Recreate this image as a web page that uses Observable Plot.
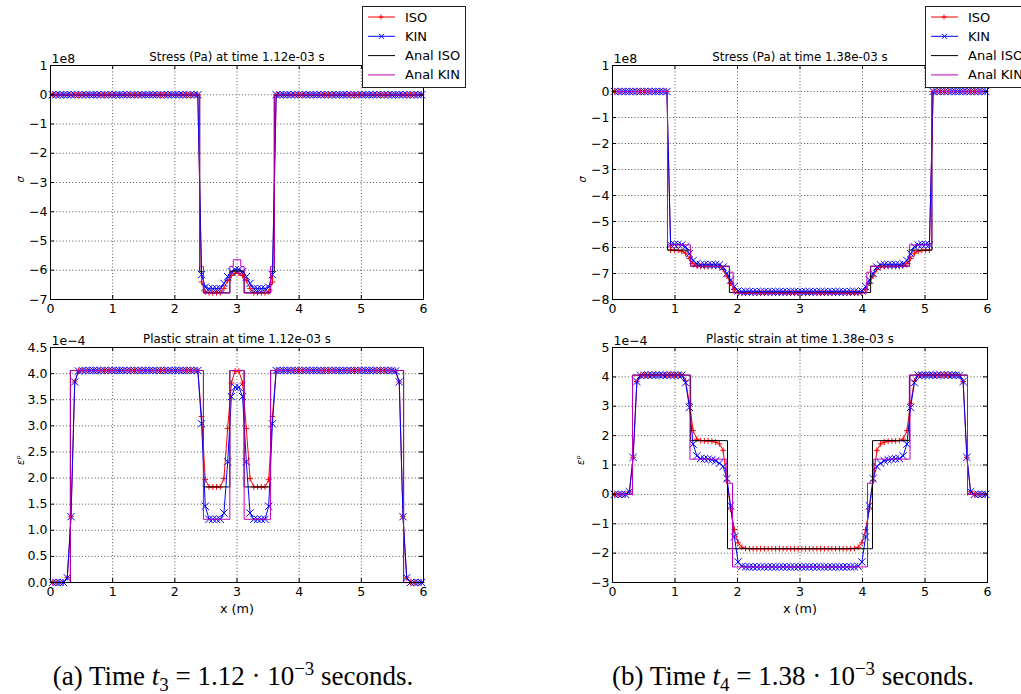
<!DOCTYPE html>
<html><head><meta charset="utf-8">
<script src="https://cdn.jsdelivr.net/npm/d3@7"></script>
<script src="https://cdn.jsdelivr.net/npm/@observablehq/plot@0.6"></script>
<style>
body{margin:0;background:#fff;}
#root{position:relative;width:1021px;height:694px;overflow:hidden;background:#fff;}
.panel{position:absolute;}
.legend{position:absolute;background:#fff;border:1px solid #222;box-sizing:border-box;z-index:5;}
.caption{position:absolute;font-family:"Liberation Serif","DejaVu Serif",serif;font-size:27px;line-height:27px;white-space:nowrap;color:#000;transform:translateX(-50%);}
.caption sub,.caption sup{font-size:70%;line-height:0;}
</style></head>
<body><div id="root"></div>
<script>
// ---------- data ----------
const xGrid = [
 0.03,0.09,0.15,0.21,0.27,0.33,0.39,0.45,0.51,0.57,
 0.63,0.69,0.75,0.81,0.87,0.93,0.99,1.05,1.11,1.17,
 1.23,1.29,1.35,1.41,1.47,1.53,1.59,1.65,1.71,1.77,
 1.83,1.89,1.95,2.01,2.07,2.13,2.19,2.25,2.31,2.37,
 2.43,2.49,2.55,2.61,2.67,2.73,2.79,2.85,2.91,2.97,
 3.03,3.09,3.15,3.21,3.27,3.33,3.39,3.45,3.51,3.57,
 3.63,3.69,3.75,3.81,3.87,3.93,3.99,4.05,4.11,4.17,
 4.23,4.29,4.35,4.41,4.47,4.53,4.59,4.65,4.71,4.77,
 4.83,4.89,4.95,5.01,5.07,5.13,5.19,5.25,5.31,5.37,
 5.43,5.49,5.55,5.61,5.67,5.73,5.79,5.85,5.91,5.97];

const seriesNames = ["ISO","KIN","Anal ISO","Anal KIN"];
const xTicks = [0,1,2,3,4,5,6];

// (a) stress, units 1e8 Pa
const stressA_iso = [
 0,0,0,0,0,0,0,0,0,0, 0,0,0,0,0,0,0,0,0,0, 0,0,0,0,0,0,0,0,0,0, 0,0,0,0,0,0,0,0,0,0,
 -6.40,-6.74,-6.77,-6.77,-6.77,-6.77,-6.62,-6.35,-6.18,-6.10,
 -6.10,-6.18,-6.35,-6.62,-6.77,-6.77,-6.77,-6.77,-6.74,-6.40,
 0,0,0,0,0,0,0,0,0,0, 0,0,0,0,0,0,0,0,0,0, 0,0,0,0,0,0,0,0,0,0, 0,0,0,0,0,0,0,0,0,0];
const stressA_kin = [
 0,0,0,0,0,0,0,0,0,0, 0,0,0,0,0,0,0,0,0,0, 0,0,0,0,0,0,0,0,0,0, 0,0,0,0,0,0,0,0,0,0,
 -6.15,-6.58,-6.63,-6.63,-6.63,-6.63,-6.45,-6.22,-6.05,-5.98,
 -5.98,-6.05,-6.22,-6.45,-6.63,-6.63,-6.63,-6.63,-6.58,-6.15,
 0,0,0,0,0,0,0,0,0,0, 0,0,0,0,0,0,0,0,0,0, 0,0,0,0,0,0,0,0,0,0, 0,0,0,0,0,0,0,0,0,0];
const stressA_analIsoX = [0, 2.40, 2.46, 2.885, 3.115, 3.54, 3.60, 6];
const stressA_analIsoY = [0, -6.05, -6.77, -6.03, -6.77, -6.05, 0, 0];
const stressA_analKinX = [0, 2.40, 2.46, 2.885, 2.94, 3.06, 3.115, 3.54, 3.60, 6];
const stressA_analKinY = [0, -5.87, -6.78, -5.87, -5.64, -5.87, -6.78, -5.87, 0, 0];
const stressA_yTicks = [1,0,-1,-2,-3,-4,-5,-6,-7];

// (a) plastic strain, units 1e-4
const strainA_iso = [
 0,0,0,0,0.09,1.26,3.84,4.05,4.06,4.06,
 4.06,4.06,4.06,4.06,4.06,4.06,4.06,4.06,4.06,4.06,
 4.06,4.06,4.06,4.06,4.06,4.06,4.06,4.06,4.06,4.06,
 4.06,4.06,4.06,4.06,4.06,4.06,4.06,4.06,4.06,4.06,
 3.18,1.97,1.83,1.83,1.83,1.83,1.99,2.95,3.82,4.05,
 4.05,3.82,2.95,1.99,1.83,1.83,1.83,1.83,1.97,3.18,
 4.06,4.06,4.06,4.06,4.06,4.06,4.06,4.06,4.06,4.06,
 4.06,4.06,4.06,4.06,4.06,4.06,4.06,4.06,4.06,4.06,
 4.06,4.06,4.06,4.06,4.06,4.06,4.06,4.06,4.06,4.06,
 4.06,4.06,4.05,3.84,1.26,0.09,0,0,0,0];
const strainA_kin = [
 0,0,0,0,0.09,1.26,3.84,4.05,4.06,4.06,
 4.06,4.06,4.06,4.06,4.06,4.06,4.06,4.06,4.06,4.06,
 4.06,4.06,4.06,4.06,4.06,4.06,4.06,4.06,4.06,4.06,
 4.06,4.06,4.06,4.06,4.06,4.06,4.06,4.06,4.06,4.06,
 3.04,1.46,1.21,1.21,1.21,1.21,1.33,2.31,3.56,3.74,
 3.74,3.56,2.31,1.33,1.21,1.21,1.21,1.21,1.46,3.04,
 4.06,4.06,4.06,4.06,4.06,4.06,4.06,4.06,4.06,4.06,
 4.06,4.06,4.06,4.06,4.06,4.06,4.06,4.06,4.06,4.06,
 4.06,4.06,4.06,4.06,4.06,4.06,4.06,4.06,4.06,4.06,
 4.06,4.06,4.05,3.84,1.26,0.09,0,0,0,0];
const strainA_analIsoX = [0, 0.32, 2.46, 2.885, 3.115, 3.54, 5.68, 6];
const strainA_analIsoY = [0, 4.06, 1.83, 4.06, 1.83, 4.06, 0, 0];
const strainA_analKinX = [0, 0.32, 2.46, 2.885, 3.115, 3.54, 5.68, 6];
const strainA_analKinY = [0, 4.06, 1.21, 4.06, 1.21, 4.06, 0, 0];
const strainA_yTicks = [0,0.5,1,1.5,2,2.5,3,3.5,4,4.5];

// (b) stress, units 1e8 Pa
const stressB_iso = [
 0,0,0,0,0,0,0,0,0,0,
 0,0,0,0,0,-6.10,-6.10,-6.11,-6.15,-6.22,
 -6.42,-6.62,-6.70,-6.73,-6.73,-6.73,-6.73,-6.73,-6.74,-6.85,
 -7.10,-7.38,-7.62,-7.74,-7.76,-7.76,-7.76,-7.76,-7.76,-7.76,
 -7.76,-7.76,-7.76,-7.76,-7.76,-7.76,-7.76,-7.76,-7.76,-7.76,
 -7.76,-7.76,-7.76,-7.76,-7.76,-7.76,-7.76,-7.76,-7.76,-7.76,
 -7.76,-7.76,-7.76,-7.76,-7.76,-7.76,-7.74,-7.62,-7.38,-7.10,
 -6.85,-6.74,-6.73,-6.73,-6.73,-6.73,-6.73,-6.70,-6.62,-6.42,
 -6.22,-6.15,-6.11,-6.10,-6.10,0,0,0,0,0,
 0,0,0,0,0,0,0,0,0,0];
const stressB_kin = [
 0,0,0,0,0,0,0,0,0,0,
 0,0,0,0,0,-5.90,-5.88,-5.88,-5.90,-5.97,
 -6.24,-6.50,-6.62,-6.66,-6.66,-6.66,-6.66,-6.66,-6.67,-6.75,
 -7.00,-7.25,-7.50,-7.67,-7.70,-7.70,-7.70,-7.70,-7.70,-7.70,
 -7.70,-7.70,-7.70,-7.70,-7.70,-7.70,-7.70,-7.70,-7.70,-7.70,
 -7.70,-7.70,-7.70,-7.70,-7.70,-7.70,-7.70,-7.70,-7.70,-7.70,
 -7.70,-7.70,-7.70,-7.70,-7.70,-7.70,-7.67,-7.50,-7.25,-7.00,
 -6.75,-6.67,-6.66,-6.66,-6.66,-6.66,-6.66,-6.62,-6.50,-6.24,
 -5.97,-5.90,-5.88,-5.88,-5.90,0,0,0,0,0,
 0,0,0,0,0,0,0,0,0,0];
const stressB_analIsoX = [0, 0.88, 1.25, 1.87, 4.13, 4.75, 5.11, 6];
const stressB_analIsoY = [0, -6.10, -6.72, -7.73, -6.72, -6.10, 0, 0];
const stressB_analKinX = [0, 0.88, 1.25, 1.87, 1.93, 4.07, 4.13, 4.75, 5.11, 6];
const stressB_analKinY = [0, -5.90, -6.72, -6.95, -7.75, -6.95, -6.72, -5.90, 0, 0];
const stressB_yTicks = [1,0,-1,-2,-3,-4,-5,-6,-7,-8];

// (b) plastic strain, units 1e-4
const strainB_iso = [
 0,0,0,0,0.09,1.26,3.84,4.05,4.06,4.06,
 4.06,4.06,4.06,4.06,4.06,4.06,4.06,4.06,4.06,3.86,
 3.10,2.17,1.88,1.83,1.82,1.82,1.81,1.78,1.72,1.50,
 0.46,-0.50,-1.20,-1.65,-1.80,-1.84,-1.85,-1.85,-1.85,-1.85,
 -1.85,-1.85,-1.85,-1.85,-1.85,-1.85,-1.85,-1.85,-1.85,-1.85,
 -1.85,-1.85,-1.85,-1.85,-1.85,-1.85,-1.85,-1.85,-1.85,-1.85,
 -1.85,-1.85,-1.85,-1.85,-1.84,-1.80,-1.65,-1.20,-0.50,0.46,
 1.50,1.72,1.78,1.81,1.82,1.82,1.83,1.88,2.17,3.10,
 3.86,4.06,4.06,4.06,4.06,4.06,4.06,4.06,4.06,4.06,
 4.06,4.06,4.05,3.84,1.26,0.09,0,0,0,0];
const strainB_kin = [
 0,0,0,0,0.09,1.26,3.84,4.05,4.06,4.06,
 4.06,4.06,4.06,4.06,4.06,4.06,4.06,4.06,4.06,3.80,
 2.96,1.71,1.31,1.22,1.21,1.20,1.18,1.14,1.06,0.95,
 0.54,-0.39,-1.45,-2.30,-2.45,-2.47,-2.47,-2.47,-2.47,-2.47,
 -2.47,-2.47,-2.47,-2.47,-2.47,-2.47,-2.47,-2.47,-2.47,-2.47,
 -2.47,-2.47,-2.47,-2.47,-2.47,-2.47,-2.47,-2.47,-2.47,-2.47,
 -2.47,-2.47,-2.47,-2.47,-2.47,-2.45,-2.30,-1.45,-0.39,0.54,
 0.95,1.06,1.14,1.18,1.20,1.21,1.22,1.31,1.71,2.96,
 3.80,4.06,4.06,4.06,4.06,4.06,4.06,4.06,4.06,4.06,
 4.06,4.06,4.05,3.84,1.26,0.09,0,0,0,0];
const strainB_analIsoX = [0, 0.32, 1.25, 1.84, 4.16, 4.75, 5.68, 6];
const strainB_analIsoY = [0, 4.06, 1.83, -1.85, 1.83, 4.06, 0, 0];
const strainB_analKinX = [0, 0.32, 1.24, 1.82, 1.92, 4.08, 4.18, 4.76, 5.68, 6];
const strainB_analKinY = [0, 4.06, 1.20, 0.38, -2.47, 0.38, 1.20, 4.06, 0, 0];
const strainB_yTicks = [5,4,3,2,1,0,-1,-2,-3];

// ---------- drawing ----------
const RED = "#ff0000", BLUE = "#0000ff", BLACK = "#000000", MAG = "#bf00bf";
const FONT = "DejaVu Sans";
const minus = s => s.replace(/^-/, "\u2212");
const fmtInt = d => minus(String(d));
const fmtOne = d => minus(d.toFixed(1));

function panel(cfg) {
  const fw = cfg.width - cfg.marginLeft - cfg.marginRight;
  const fh = cfg.height - cfg.marginTop - cfg.marginBottom;
  const iso = xGrid.map((x, i) => ({x, y: cfg.iso[i]}));
  const kin = xGrid.map((x, i) => ({x, y: cfg.kin[i]}));
  const aIso = cfg.aIsoX.map((x, i) => ({x, y: cfg.aIsoY[i]}));
  const aKin = cfg.aKinX.map((x, i) => ({x, y: cfg.aKinY[i]}));
  const grid = {stroke: BLACK, strokeOpacity: 0.85, strokeWidth: 0.8, strokeDasharray: "1,2.2"};
  const marks = [
    Plot.gridX(xTicks, grid),
    Plot.gridY(cfg.yTicks, grid),
    Plot.line(iso, {x: "x", y: "y", stroke: RED, strokeWidth: 1}),
    Plot.dot(iso, {x: "x", y: "y", symbol: "plus", r: 2, stroke: RED, strokeWidth: 1}),
    Plot.line(kin, {x: "x", y: "y", stroke: BLUE, strokeWidth: 1}),
    Plot.dot(kin, {x: "x", y: "y", symbol: "times", r: 3.4, stroke: BLUE, strokeWidth: 1}),
    Plot.line(aIso, {x: "x", y: "y", curve: "step-after", stroke: BLACK, strokeWidth: 1}),
    Plot.line(aKin, {x: "x", y: "y", curve: "step-after", stroke: MAG, strokeWidth: 1}),
    Plot.tickX(xTicks, {x: d => d, insetTop: fh - 4, stroke: BLACK}),
    Plot.tickX(xTicks, {x: d => d, insetBottom: fh - 4, stroke: BLACK}),
    Plot.tickY(cfg.yTicks, {y: d => d, insetRight: fw - 4, stroke: BLACK}),
    Plot.tickY(cfg.yTicks, {y: d => d, insetLeft: fw - 4, stroke: BLACK}),
    Plot.frame({stroke: BLACK, strokeWidth: 1}),
    Plot.axisX(xTicks, {tickSize: 0, tickPadding: 5, label: null, fontSize: 12.5, tickFormat: fmtInt}),
    Plot.axisY(cfg.yTicks, {tickSize: 0, tickPadding: 3, label: null, fontSize: 12.5, tickFormat: cfg.yFmt}),
    Plot.text([cfg.title], {text: d => d, frameAnchor: "top", lineAnchor: "middle", dy: -8, fontSize: 11.8}),
    Plot.text([cfg.offset], {text: d => d, frameAnchor: "top-left", textAnchor: "start", lineAnchor: "middle", dy: -7, dx: 1, fontSize: 12.5}),
    Plot.text([cfg.ylabel], {text: d => d, frameAnchor: "left", rotate: -90, lineAnchor: "middle", dx: cfg.ylabelDx, fontSize: 10, fontStyle: "italic"})
  ];
  if (cfg.xlabel) marks.push(Plot.text([cfg.xlabel], {text: d => d, frameAnchor: "bottom", lineAnchor: "middle", dy: 26, fontSize: 12.8}));
  const svg = Plot.plot({
    width: cfg.width, height: cfg.height,
    marginLeft: cfg.marginLeft, marginRight: cfg.marginRight,
    marginTop: cfg.marginTop, marginBottom: cfg.marginBottom,
    x: {domain: [0, 6]},
    y: {domain: cfg.yDomain},
    style: {fontFamily: FONT, fontSize: "12.5px", overflow: "visible", background: "transparent", color: "#000"},
    marks
  });
  svg.classList.add("panel");
  svg.style.left = cfg.left + "px";
  svg.style.top = cfg.top + "px";
  svg.style.position = "absolute";
  return svg;
}

const root = document.getElementById("root");
root.appendChild(panel({left: 0, top: 0, width: 510, height: 320, marginLeft: 50, marginRight: 87, marginTop: 65, marginBottom: 21,
  yDomain: [-7, 1], yTicks: stressA_yTicks, yFmt: fmtInt, iso: stressA_iso, kin: stressA_kin,
  aIsoX: stressA_analIsoX, aIsoY: stressA_analIsoY, aKinX: stressA_analKinX, aKinY: stressA_analKinY,
  title: "Stress (Pa) at time 1.12e-03 s", offset: "1e8", ylabel: "σ", ylabelDx: -30}));
root.appendChild(panel({left: 0, top: 320, width: 510, height: 300, marginLeft: 50, marginRight: 87, marginTop: 27, marginBottom: 38,
  yDomain: [0, 4.5], yTicks: strainA_yTicks, yFmt: fmtOne, iso: strainA_iso, kin: strainA_kin,
  aIsoX: strainA_analIsoX, aIsoY: strainA_analIsoY, aKinX: strainA_analKinX, aKinY: strainA_analKinY,
  title: "Plastic strain at time 1.12e-03 s", offset: "1e\u22124", ylabel: "εᵖ", ylabelDx: -30, xlabel: "x (m)"}));
root.appendChild(panel({left: 510, top: 0, width: 511, height: 320, marginLeft: 102, marginRight: 34, marginTop: 65, marginBottom: 21,
  yDomain: [-8, 1], yTicks: stressB_yTicks, yFmt: fmtInt, iso: stressB_iso, kin: stressB_kin,
  aIsoX: stressB_analIsoX, aIsoY: stressB_analIsoY, aKinX: stressB_analKinX, aKinY: stressB_analKinY,
  title: "Stress (Pa) at time 1.38e-03 s", offset: "1e8", ylabel: "σ", ylabelDx: -30}));
root.appendChild(panel({left: 510, top: 320, width: 511, height: 300, marginLeft: 102, marginRight: 34, marginTop: 27, marginBottom: 38,
  yDomain: [-3, 5], yTicks: strainB_yTicks, yFmt: fmtInt, iso: strainB_iso, kin: strainB_kin,
  aIsoX: strainB_analIsoX, aIsoY: strainB_analIsoY, aKinX: strainB_analKinX, aKinY: strainB_analKinY,
  title: "Plastic strain at time 1.38e-03 s", offset: "1e\u22124", ylabel: "εᵖ", ylabelDx: -32, xlabel: "x (m)"}));

// ---------- legends ----------
function legend(left, top) {
  const div = document.createElement("div");
  div.className = "legend";
  div.style.left = left + "px"; div.style.top = top + "px";
  div.style.width = "104px"; div.style.height = "82px";
  const colors = [RED, BLUE, BLACK, MAG];
  let s = `<svg width="104" height="82" style="display:block;overflow:visible" font-family="${FONT}" font-size="13">`;
  seriesNames.forEach((name, i) => {
    const cy = 10 + i * 19.3;
    s += `<line x1="5" x2="32" y1="${cy}" y2="${cy}" stroke="${colors[i]}" stroke-width="1"/>`;
    if (i === 0) s += `<path d="M15.5,${cy}h5M18,${cy - 2.5}v5" stroke="${RED}" stroke-width="1"/>`;
    if (i === 1) s += `<path d="M16,${cy - 2.5}l5,5M16,${cy + 2.5}l5,-5" stroke="${BLUE}" stroke-width="1"/>`;
    s += `<text x="42" y="${cy}" dy="0.35em" fill="#000">${name}</text>`;
  });
  s += `</svg>`;
  div.innerHTML = s;
  root.appendChild(div);
}
legend(362, 6);
legend(925, 6);

// ---------- captions ----------
function caption(cx, html) {
  const d = document.createElement("div");
  d.className = "caption";
  d.style.left = cx + "px"; d.style.top = "663px";
  d.innerHTML = html;
  root.appendChild(d);
}
caption(233, "(a) Time <i>t</i><sub>3</sub> = 1.12 · 10<sup>−3</sup> seconds.");
caption(793, "(b) Time <i>t</i><sub>4</sub> = 1.38 · 10<sup>−3</sup> seconds.");
</script>
</body></html>
